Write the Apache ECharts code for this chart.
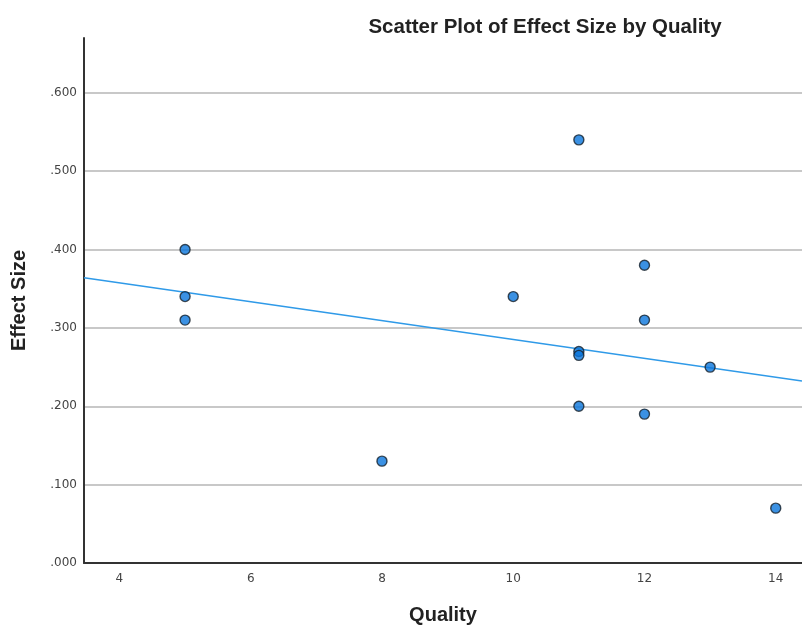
<!DOCTYPE html>
<html>
<head>
<meta charset="utf-8">
<script src="https://cdn.jsdelivr.net/npm/echarts@6/dist/echarts.min.js"></script>
<style>
  html, body { margin: 0; padding: 0; background: #fff; }
  #chart { width: 802px; height: 628px; }
</style>
</head>
<body>
<div id="chart"></div>
<script>
var quality = [5, 5, 5, 8, 10, 11, 11, 11, 11, 12, 12, 12, 13, 14];
var effectSize = [0.40, 0.34, 0.31, 0.13, 0.34, 0.54, 0.27, 0.265, 0.20, 0.38, 0.31, 0.19, 0.25, 0.07];
var xTicks = [4, 6, 8, 10, 12, 14];
var yTicks = [0, 0.1, 0.2, 0.3, 0.4, 0.5, 0.6];

// x axis starts a little before 4, so ticks run on a fine step and only
// the even numbers get a label
var X_MIN = 3.46, X_MAX = 14.40, X_STEP = 0.02;
var Y_MIN = 0, Y_MAX = 0.67;

// least squares fit, drawn across the whole x range
var fitLine = function (xs, ys) {
  var n = xs.length;
  var mx = xs.reduce((a, b) => a + b, 0) / n;
  var my = ys.reduce((a, b) => a + b, 0) / n;
  var sxy = 0, sxx = 0;
  for (var i = 0; i < n; i++) {
    sxy += (xs[i] - mx) * (ys[i] - my);
    sxx += (xs[i] - mx) * (xs[i] - mx);
  }
  var b = sxy / sxx;
  var a = my - b * mx;
  return [X_MIN, X_MAX].map((x) => [x, a + b * x]);
};

var points = quality.map((q, i) => [q, effectSize[i]]);

var onTick = (list, v) => list.some((t) => Math.abs(t - v) < 1e-6);

var chart = echarts.init(document.getElementById("chart"));
chart.setOption({
  backgroundColor: "#fff",
  animation: false,
  textStyle: { fontFamily: "Liberation Sans, Arial, sans-serif" },
  title: {
    text: "Scatter Plot of Effect Size by Quality",
    left: 540,
    top: 12,
    textAlign: "center",
    textStyle: { fontSize: 20.5, fontWeight: "bold", color: "#222" },
  },
  grid: { left: 84, right: 0, top: 38, bottom: 65, outerBoundsMode: "none", containLabel: false },
  xAxis: {
    type: "value",
    min: X_MIN,
    max: X_MAX,
    interval: X_STEP,
    name: "Quality",
    nameLocation: "middle",
    nameGap: 42,
    nameTextStyle: { fontSize: 20, fontWeight: "bold", color: "#222" },
    axisLine: { show: true, lineStyle: { color: "#333", width: 2 } },
    axisTick: { show: false },
    splitLine: { show: false },
    axisLabel: {
      interval: 0,
      color: "#444",
      fontFamily: "DejaVu Sans",
      fontSize: 12,
      margin: 10,
      showMinLabel: false,
      showMaxLabel: false,
      formatter: (v) => (onTick(xTicks, v) ? String(Math.round(v)) : ""),
    },
  },
  yAxis: {
    type: "value",
    min: Y_MIN,
    max: Y_MAX,
    interval: 0.1,
    name: "Effect Size",
    nameLocation: "middle",
    nameRotate: 90,
    nameGap: 55,
    nameTextStyle: { fontSize: 20, fontWeight: "bold", color: "#222" },
    axisLine: { show: true, lineStyle: { color: "#333", width: 2 } },
    axisTick: { show: false },
    splitLine: {
      show: true,
      showMinLine: false,
      showMaxLine: false,
      lineStyle: { color: "#c8c8c8", width: 2 },
    },
    axisLabel: {
      color: "#444",
      fontFamily: "DejaVu Sans",
      fontSize: 12,
      margin: 7,
      showMaxLabel: false,
      formatter: (v) => (onTick(yTicks, v) ? v.toFixed(3).replace(/^0/, "") : ""),
    },
  },
  series: [
    {
      type: "line",
      data: fitLine(quality, effectSize),
      symbol: "none",
      lineStyle: { color: "#2f9ae8", width: 1.5 },
      z: 2,
    },
    {
      type: "scatter",
      data: points,
      symbolSize: 10,
      itemStyle: { color: "#0a76dc", borderColor: "#15202b", borderWidth: 1.4 },
      z: 3,
    },
  ],
});
</script>
</body>
</html>
